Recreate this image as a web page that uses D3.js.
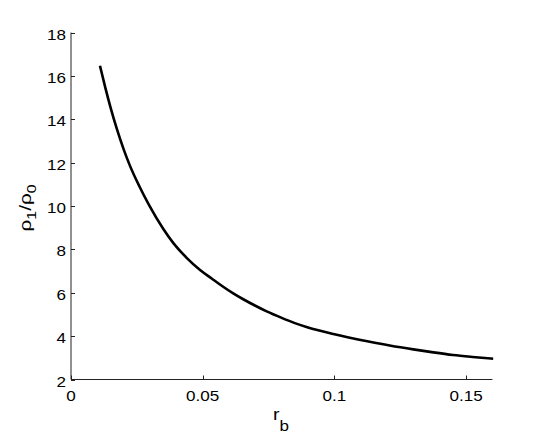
<!DOCTYPE html>
<html>
<head>
<meta charset="utf-8">
<script src="https://cdn.jsdelivr.net/npm/d3@7"></script>
<style>
  body { margin: 0; background: #fff; }
  text { font-family: "Liberation Sans", Arial, sans-serif; fill: #000; }
</style>
</head>
<body>
<div id="chart-area"></div>
<script>
let width = 545,
    height = 436;

// values (r_b, rho1/rho0)
let rb = [0.0110, 0.0130, 0.0150, 0.0175, 0.0200, 0.0224, 0.0260, 0.0296, 0.0350, 0.0388,
          0.0440, 0.0490, 0.0534, 0.0575, 0.0616, 0.0654, 0.0700, 0.0743, 0.0800, 0.0850,
          0.0900, 0.0996, 0.1050, 0.1125, 0.1210, 0.1300, 0.1376, 0.1450, 0.1525, 0.1603];
let ratio = [16.47, 15.47, 14.55, 13.52, 12.61, 11.85, 10.9, 10.05, 8.95, 8.3,
             7.6, 7.05, 6.66, 6.3, 5.97, 5.7, 5.4, 5.14, 4.84, 4.6,
             4.4, 4.1, 3.95, 3.76, 3.57, 3.39, 3.25, 3.13, 3.04, 2.96];
let xTicks = [0, 0.05, 0.1, 0.15];
let xTickLabels = ["0", "0.05", "0.1", "0.15"];
let yTicks = [2, 4, 6, 8, 10, 12, 14, 16, 18];

let svg = d3.select("#chart-area")
    .append("svg")
    .attr("width", width)
    .attr("height", height);

let x = d3.scaleLinear().domain([0, 0.16]).range([71, 492.4]);
let y = d3.scaleLinear().domain([2, 18]).range([379.5, 32.5]);

let stretch = 1.22; // matlab digits are wider than liberation sans

//axis lines
svg.append("line")
    .attr("x1", 71).attr("x2", 71)
    .attr("y1", y(18)).attr("y2", y(2))
    .style("stroke", "#222").style("stroke-width", 1);
svg.append("line")
    .attr("x1", 71).attr("x2", x(0.16))
    .attr("y1", y(2)).attr("y2", y(2))
    .style("stroke", "#222").style("stroke-width", 1);

//ticks (inward)
svg.selectAll(".xtick").data(xTicks).enter()
    .append("line")
    .attr("x1", d => Math.round(x(d)) + 0.5).attr("x2", d => Math.round(x(d)) + 0.5)
    .attr("y1", y(2)).attr("y2", y(2) - 4)
    .style("stroke", "#222");
svg.selectAll(".ytick").data(yTicks).enter()
    .append("line")
    .attr("x1", 71).attr("x2", 75)
    .attr("y1", d => Math.round(y(d)) + 0.5).attr("y2", d => Math.round(y(d)) + 0.5)
    .style("stroke", "#222");

//tick labels
svg.selectAll(".xlab").data(xTicks).enter()
    .append("text")
    .attr("transform", d => "translate(" + x(d) + ",401) scale(" + stretch + ",1)")
    .attr("text-anchor", "middle")
    .style("font-size", "14px")
    .text((d, i) => xTickLabels[i]);
svg.selectAll(".ylab").data(yTicks).enter()
    .append("text")
    .attr("transform", d => "translate(66," + (y(d) + 7) + ") scale(" + stretch + ",1)")
    .attr("text-anchor", "end")
    .style("font-size", "14px")
    .text(d => d);

//axis titles
let xt = svg.append("text")
    .attr("transform", "translate(281,420) scale(" + stretch + ",1)")
    .attr("text-anchor", "middle")
    .style("font-size", "16px");
xt.append("tspan").text("r");
xt.append("tspan").attr("dy", 11).style("font-size", "14px").text("b");

let yt = svg.append("text")
    .attr("transform", "translate(31,208) rotate(-90) scale(" + stretch + ",1)")
    .attr("text-anchor", "middle")
    .style("font-size", "17px");
yt.append("tspan").text("ρ");
yt.append("tspan").attr("dy", 5).style("font-size", "13px").text("1");
yt.append("tspan").attr("dy", -5).text("/ρ");
yt.append("tspan").attr("dy", 5).style("font-size", "13px").text("0");

//curve
let line = d3.line()
    .x((d, i) => x(rb[i]))
    .y(d => y(d))
    .curve(d3.curveMonotoneX);

svg.append("path")
    .datum(ratio)
    .attr("d", line)
    .style("fill", "none")
    .style("stroke", "#000")
    .style("stroke-width", 2.6);
</script>
</body>
</html>
